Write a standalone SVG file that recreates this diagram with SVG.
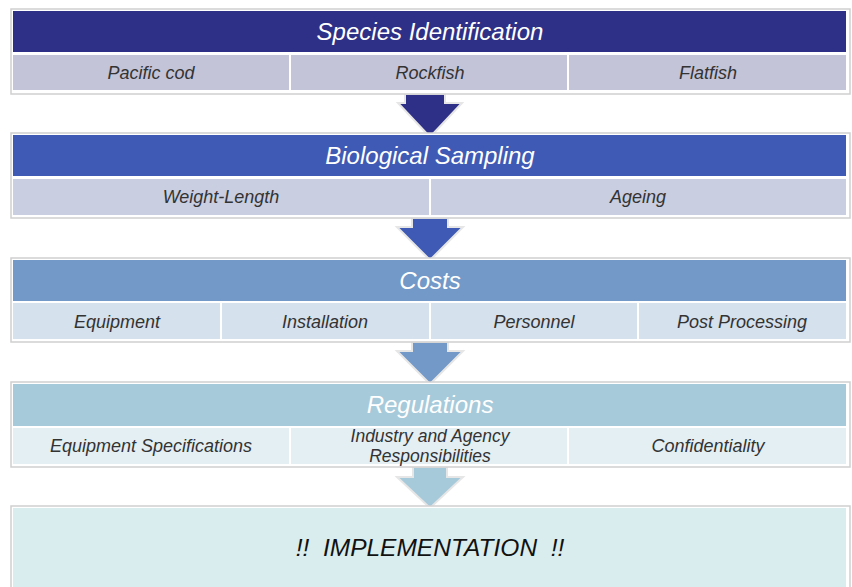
<svg xmlns="http://www.w3.org/2000/svg" width="852" height="587" viewBox="0 0 852 587">
<style>
.frame{fill:#ffffff;stroke:#cfcfcf;stroke-width:1.5}
.title{font-family:"Liberation Sans",Arial,sans-serif;font-style:italic;font-size:24px;fill:#ffffff;text-anchor:middle}
.sub{font-family:"Liberation Sans",Arial,sans-serif;font-style:italic;font-size:18px;fill:#333333;text-anchor:middle}
.sub2{font-size:17.5px}
.impl{font-family:"Liberation Sans",Arial,sans-serif;font-style:italic;font-size:24.5px;fill:#111111;text-anchor:middle;white-space:pre}
.arrow{stroke:#e6e6e6;stroke-width:2;stroke-linejoin:miter}
</style>
<rect width="852" height="587" fill="#ffffff"/>
<g id="connectors">
<polygon class="arrow" fill="#2E3087" points="405,94 445,94 445,103 462,103 430,137 398,103 405,103"/>
<polygon class="arrow" fill="#3E5AB5" points="412,218 448,218 448,227 463,227 430,260 397,227 412,227"/>
<polygon class="arrow" fill="#7399C8" points="412,342 448,342 448,351 463,351 430,384 397,351 412,351"/>
<polygon class="arrow" fill="#A7CADB" points="413,467 447,467 447,477 463,477 430,508 397,477 413,477"/>
</g>
<g id="species">
<rect class="frame" x="11" y="9" width="839" height="85"/>
<rect x="13" y="11" width="833" height="41" fill="#2E3087"/>
<rect x="13" y="55" width="276" height="35" fill="#C3C4D8"/>
<rect x="291" y="55" width="276" height="35" fill="#C3C4D8"/>
<rect x="569" y="55" width="277" height="35" fill="#C3C4D8"/>
<text class="title" x="430" y="40">Species Identification</text>
<text class="sub" x="151" y="79">Pacific cod</text>
<text class="sub" x="430" y="79">Rockfish</text>
<text class="sub" x="708" y="79">Flatfish</text>
</g>
<g id="biological">
<rect class="frame" x="11" y="133" width="839" height="85"/>
<rect x="13" y="135" width="833" height="41" fill="#3E5AB5"/>
<rect x="13" y="179" width="416" height="36" fill="#C9CEE1"/>
<rect x="431" y="179" width="415" height="36" fill="#C9CEE1"/>
<text class="title" x="430" y="164">Biological  Sampling</text>
<text class="sub" x="221" y="203">Weight-Length</text>
<text class="sub" x="638" y="203">Ageing</text>
</g>
<g id="costs">
<rect class="frame" x="11" y="258" width="839" height="84"/>
<rect x="13" y="260" width="833" height="41" fill="#7399C8"/>
<rect x="13" y="303" width="207" height="36" fill="#D5E1EC"/>
<rect x="222" y="303" width="207" height="36" fill="#D5E1EC"/>
<rect x="431" y="303" width="206" height="36" fill="#D5E1EC"/>
<rect x="639" y="303" width="207" height="36" fill="#D5E1EC"/>
<text class="title" x="430" y="289">Costs</text>
<text class="sub" x="117" y="328">Equipment</text>
<text class="sub" x="325" y="328">Installation</text>
<text class="sub" x="534" y="328">Personnel</text>
<text class="sub" x="742" y="328">Post Processing</text>
</g>
<g id="regulations">
<rect class="frame" x="11" y="382" width="839" height="85"/>
<rect x="13" y="384" width="833" height="42" fill="#A7CADB"/>
<rect x="13" y="428" width="276" height="36" fill="#E3EFF3"/>
<rect x="291" y="428" width="276" height="36" fill="#E3EFF3"/>
<rect x="569" y="428" width="277" height="36" fill="#E3EFF3"/>
<text class="title" x="430" y="413">Regulations</text>
<text class="sub" x="151" y="452">Equipment Specifications</text>
<text class="sub sub2" x="430" y="441.5">Industry and Agency</text>
<text class="sub sub2" x="430" y="461.5">Responsibilities</text>
<text class="sub" x="708" y="452">Confidentiality</text>
</g>
<g id="implementation">
<rect class="frame" x="11" y="506" width="839" height="90"/>
<rect x="13" y="508" width="833" height="85" fill="#DAEDEE"/>
<text class="impl" x="430" y="556">!!  IMPLEMENTATION  !!</text>
</g>
</svg>
